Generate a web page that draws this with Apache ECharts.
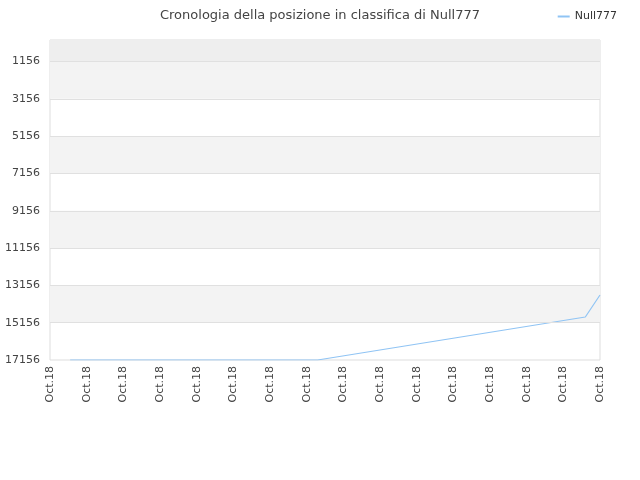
<!DOCTYPE html>
<html><head><meta charset="utf-8">
<script src="https://cdn.jsdelivr.net/npm/echarts@6/dist/echarts.min.js"></script>
<style>html,body{margin:0;padding:0;background:#fff}#c{width:640px;height:480px}</style>
</head><body><div id="c"></div>
<script>
const xTicks = [0,2,4,6,8,10,12,14,16,18,20,22,24,26,28,30];
const xLabel = "Oct.18";
const yTicks = [1156,3156,5156,7156,9156,11156,13156,15156,17156];
const seriesX = [1.1, 14.6, 29.2, 30];
const seriesY = [17156, 17156, 14850, 13670];
const greyBands = [[1156,3156],[5156,7156],[9156,11156],[13156,15156]];

const chart = echarts.init(document.getElementById('c'));
chart.setOption({
  animation:false,
  title:{text:'Cronologia della posizione in classifica di Null777',left:'center',top:4,
    textStyle:{fontSize:13,fontWeight:'normal',color:'#444',fontFamily:'DejaVu Sans'}},
  legend:{right:18,top:6,itemWidth:12,itemHeight:2,icon:'rect',itemGap:6,
    textStyle:{fontSize:11,color:'#333',fontFamily:'DejaVu Sans'},data:['Null777']},
  grid:{left:50,right:40,top:40,bottom:120,show:true,borderColor:'#ddd',backgroundColor:'#fff'},
  xAxis:{type:'value',min:0,max:30,
    axisLine:{show:false},splitLine:{show:false},
    axisTick:{show:false,customValues:xTicks},
    axisLabel:{customValues:xTicks,rotate:90,formatter:()=>xLabel,fontSize:11,color:'#444',fontFamily:'DejaVu Sans',margin:6}},
  yAxis:{type:'value',inverse:true,min:1,max:17156,
    axisLine:{show:false},splitLine:{show:false},
    axisTick:{show:false,customValues:yTicks},
    axisLabel:{customValues:yTicks,formatter:v=>String(v),fontSize:11,color:'#444',fontFamily:'DejaVu Sans',margin:10}},
  series:[{name:'Null777',type:'line',symbol:'none',
    data:seriesX.map((x,i)=>[x,seriesY[i]]),
    lineStyle:{color:'#90c4f4',width:1.2},itemStyle:{color:'#90c4f4'},
    markArea:{silent:true,itemStyle:{color:'#f3f3f3'},
      data:[[{yAxis:1},{yAxis:1156,itemStyle:{color:'#eeeeee'}}]].concat(greyBands.map(b=>[{yAxis:b[0]},{yAxis:b[1]}]))},
    markLine:{silent:true,symbol:'none',label:{show:false},
      lineStyle:{color:'#e0e0e0',type:'solid',width:1},
      data:yTicks.slice(0,-1).map(v=>({yAxis:v}))}
  }]
});
</script></body></html>
